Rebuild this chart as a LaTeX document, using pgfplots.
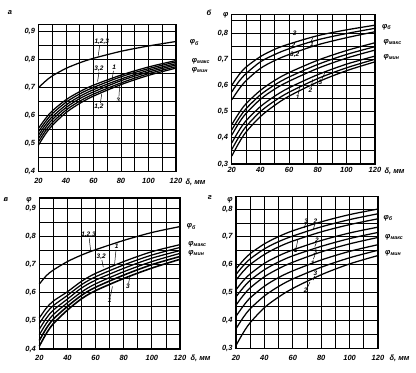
\documentclass[border=0pt]{standalone}
\usepackage{fontspec}
\setmainfont{Liberation Sans}
\usepackage{pgfplots}
\pgfplotsset{compat=1.18}
\newcommand{\lab}{\fontsize{7.5}{8.5}\selectfont\bfseries\itshape}
\newcommand{\slab}{\fontsize{6.5}{7.5}\selectfont\bfseries\itshape}
\pgfplotsset{
 panel/.style={
  scale only axis, anchor=south west, clip=false,
  xmin=20, xmax=120,
  xtick={20,40,60,80,100,120},
  minor xtick={30,50,70,90,110},
  grid=both,
  major grid style={black, line width=0.85pt},
  minor grid style={black, line width=0.85pt},
  axis line style={black, line width=1.3pt},
  major tick length=0pt, minor tick length=0pt,
  tick label style={font=\lab},
  xticklabels={20,40,60,80,100,120},
 },
 crv/.style={black, line width=1.25pt, smooth, no markers},
}
\tikzset{ldr/.style={black, line width=0.5pt}}
\begin{document}
\begin{tikzpicture}
\useasboundingbox (0,0) rectangle (416pt,373pt);
% ---------------- panel a ----------------
\begin{axis}[panel, at={(38.5pt,201.3pt)}, width=137.5pt, height=147pt,
  ymin=0.4, ymax=0.925,
  ytick={0.4,0.5,0.6,0.7,0.8,0.9}, minor ytick={0.45,0.55,0.65,0.75,0.85},
  yticklabels={{0,4},{0,5},{0,6},{0,7},{0,8},{0,9}},
  xticklabel style={yshift=-3pt}]
\addplot[crv] coordinates {(20,0.700)(25,0.723)(30,0.742)(40,0.769)(50,0.789)(60,0.805)(80,0.830)(100,0.849)(120,0.865)};
\addplot[crv] coordinates {(20,.555)(25,.589)(30,.617)(40,.657)(50,.686)(60,.709)(80,.745)(100,.774)(120,.797)};
\addplot[crv] coordinates {(20,.543)(25,.578)(30,.607)(40,.648)(50,.678)(60,.701)(80,.739)(100,.768)(120,.792)};
\addplot[crv] coordinates {(20,.531)(25,.567)(30,.596)(40,.638)(50,.669)(60,.693)(80,.731)(100,.762)(120,.786)};
\addplot[crv] coordinates {(20,.519)(25,.556)(30,.586)(40,.629)(50,.661)(60,.685)(80,.725)(100,.756)(120,.781)};
\addplot[crv] coordinates {(20,.507)(25,.545)(30,.575)(40,.620)(50,.652)(60,.677)(80,.717)(100,.750)(120,.775)};
\addplot[crv] coordinates {(20,.495)(25,.534)(30,.565)(40,.611)(50,.644)(60,.670)(80,.711)(100,.744)(120,.770)};
\node[font=\slab] at (axis cs:66,0.864) {1,2,3};
\draw[ldr] (axis cs:64.5,0.852) -- (axis cs:63.5,0.815);
\node[font=\slab] at (axis cs:64,0.769) {3,2};
\draw[ldr] (axis cs:64,0.757) -- (axis cs:63,0.722);
\node[font=\slab] at (axis cs:75,0.772) {1};
\draw[ldr] (axis cs:74.5,0.760) -- (axis cs:73.5,0.728);
\node[font=\slab] at (axis cs:64,0.632) {1,2};
\draw[ldr] (axis cs:65,0.645) -- (axis cs:66,0.678);
\node[font=\slab] at (axis cs:78,0.656) {3};
\draw[ldr] (axis cs:78.5,0.668) -- (axis cs:79,0.708);
\node[font=\lab, anchor=west] at (axis cs:127.5,0.862) {φ\textsubscript{б}};
\node[font=\lab, anchor=west] at (axis cs:129,0.795) {φ\textsubscript{макс}};
\node[font=\lab, anchor=west] at (axis cs:129,0.764) {φ\textsubscript{мин}};
\end{axis}
% ---------------- panel b ----------------
\begin{axis}[panel, at={(231.7pt,209pt)}, width=143.3pt, height=149.3pt,
  ymin=0.3, ymax=0.87,
  ytick={0.3,0.4,0.5,0.6,0.7,0.8}, minor ytick={0.35,0.45,0.55,0.65,0.75,0.85},
  yticklabels={{0,3},{0,4},{0,5},{0,6},{0,7},{0,8}}]
\addplot[crv] coordinates {(20,.60)(25,.64)(30,.67)(40,.71)(50,.738)(60,.758)(80,.79)(100,.812)(120,.83)};
\addplot[crv] coordinates {(20,.575)(25,.615)(30,.645)(40,.69)(50,.718)(60,.74)(80,.774)(100,.798)(120,.818)};
\addplot[crv] coordinates {(20,.545)(25,.585)(30,.618)(40,.665)(50,.695)(60,.718)(80,.755)(100,.782)(120,.805)};
\addplot[crv] coordinates {(20,.45)(25,.494)(30,.530)(40,.581)(50,.619)(60,.649)(80,.696)(100,.733)(120,.763)};
\addplot[crv] coordinates {(20,.43)(25,.474)(30,.511)(40,.564)(50,.602)(60,.632)(80,.680)(100,.718)(120,.748)};
\addplot[crv] coordinates {(20,.41)(25,.456)(30,.493)(40,.547)(50,.586)(60,.616)(80,.665)(100,.704)(120,.735)};
\addplot[crv] coordinates {(20,.38)(25,.427)(30,.465)(40,.519)(50,.559)(60,.591)(80,.641)(100,.681)(120,.712)};
\addplot[crv] coordinates {(20,.355)(25,.403)(30,.443)(40,.500)(50,.541)(60,.574)(80,.626)(100,.667)(120,.700)};
\addplot[crv] coordinates {(20,.33)(25,.380)(30,.422)(40,.481)(50,.524)(60,.559)(80,.613)(100,.656)(120,.690)};
\node[font=\slab] at (axis cs:64,0.80) {3};
\node[font=\slab] at (axis cs:63,0.755) {2};
\node[font=\slab] at (axis cs:76,0.757) {1};
\draw[ldr] (axis cs:75.5,0.768) -- (axis cs:76.5,0.782);
\node[font=\slab] at (axis cs:64,0.718) {3,2};
\node[font=\slab] at (axis cs:66,0.555) {1};
\draw[ldr] (axis cs:66.5,0.568) -- (axis cs:67.5,0.598);
\node[font=\slab] at (axis cs:75,0.58) {2};
\draw[ldr] (axis cs:75.5,0.593) -- (axis cs:76.5,0.623);
\node[font=\slab] at (axis cs:82,0.612) {3};
\draw[ldr] (axis cs:83,0.625) -- (axis cs:85,0.648);
\node[font=\lab, anchor=west] at (axis cs:122.5,0.824) {φ\textsubscript{б}};
\node[font=\lab, anchor=west] at (axis cs:123.5,0.763) {φ\textsubscript{макс}};
\node[font=\lab, anchor=west] at (axis cs:123.5,0.707) {φ\textsubscript{мин}};
\end{axis}
% ---------------- panel v ----------------
\begin{axis}[panel, at={(39.3pt,24pt)}, width=140.7pt, height=150.9pt,
  ymin=0.4, ymax=0.935,
  ytick={0.4,0.5,0.6,0.7,0.8,0.9}, minor ytick={0.45,0.55,0.65,0.75,0.85},
  yticklabels={{0,4},{0,5},{0,6},{0,7},{0,8},{0,9}},
  xticklabel style={yshift=-3pt}]
\addplot[crv] coordinates {(20,0.63)(25,0.66)(30,0.68)(40,0.71)(50,0.733)(60,0.752)(80,0.785)(100,0.813)(120,0.834)};
\addplot[crv] coordinates {(20,.51)(25,.545)(30,.57)(40,.603)(50,.64)(60,.668)(80,.71)(100,.745)(120,.77)};
\addplot[crv] coordinates {(20,.49)(25,.527)(30,.554)(40,.590)(50,.628)(60,.656)(80,.698)(100,.733)(120,.760)};
\addplot[crv] coordinates {(20,.47)(25,.509)(30,.538)(40,.577)(50,.616)(60,.644)(80,.686)(100,.722)(120,.749)};
\addplot[crv] coordinates {(20,.45)(25,.491)(30,.522)(40,.564)(50,.602)(60,.631)(80,.674)(100,.710)(120,.739)};
\addplot[crv, line width=1.6pt] coordinates {(20,.43)(25,.473)(30,.506)(40,.551)(50,.590)(60,.619)(80,.662)(100,.699)(120,.728)};
\addplot[crv, line width=1.6pt] coordinates {(20,.41)(25,.455)(30,.49)(40,.538)(50,.578)(60,.607)(80,.65)(100,.687)(120,.718)};
\node[font=\slab] at (axis cs:55,0.804) {1,2,3};
\draw[ldr] (axis cs:55.5,0.792) -- (axis cs:56.5,0.748);
\node[font=\slab] at (axis cs:64,0.727) {3,2};
\draw[ldr] (axis cs:64.5,0.715) -- (axis cs:65.5,0.690);
\node[font=\slab] at (axis cs:75,0.763) {1};
\draw[ldr] (axis cs:74.5,0.751) -- (axis cs:73.5,0.700);
\node[font=\slab] at (axis cs:83,0.621) {3};
\draw[ldr] (axis cs:83.5,0.633) -- (axis cs:84.5,0.662);
\node[font=\slab] at (axis cs:70,0.574) {1};
\draw[ldr] (axis cs:70.5,0.586) -- (axis cs:72,0.622);
\node[font=\lab, anchor=west] at (axis cs:122.3,0.834) {φ\textsubscript{б}};
\node[font=\lab, anchor=west] at (axis cs:123.5,0.770) {φ\textsubscript{макс}};
\node[font=\lab, anchor=west] at (axis cs:123.5,0.738) {φ\textsubscript{мин}};
\end{axis}
% ---------------- panel g ----------------
\begin{axis}[panel, at={(236pt,24.7pt)}, width=142pt, height=151.8pt,
  ymin=0.3, ymax=0.845,
  ytick={0.3,0.4,0.5,0.6,0.7,0.8}, minor ytick={0.35,0.45,0.55,0.65,0.75},
  yticklabels={{0,3},{0,4},{0,5},{0,6},{0,7},{0,8}},
  xticklabel style={yshift=-3pt}]
\addplot[crv] coordinates {(20,.585)(25,.615)(30,.640)(40,.675)(50,.701)(60,.722)(80,.754)(100,.780)(120,.800)};
\addplot[crv] coordinates {(20,.565)(25,.596)(30,.621)(40,.657)(50,.683)(60,.703)(80,.736)(100,.762)(120,.783)};
\addplot[crv] coordinates {(20,.545)(25,.576)(30,.601)(40,.637)(50,.664)(60,.685)(80,.718)(100,.744)(120,.765)};
\addplot[crv] coordinates {(20,.510)(25,.542)(30,.567)(40,.605)(50,.632)(60,.653)(80,.687)(100,.714)(120,.735)};
\addplot[crv] coordinates {(20,.485)(25,.517)(30,.544)(40,.582)(50,.610)(60,.632)(80,.666)(100,.694)(120,.716)};
\addplot[crv] coordinates {(20,.455)(25,.489)(30,.517)(40,.557)(50,.586)(60,.609)(80,.646)(100,.675)(120,.698)};
\addplot[crv] coordinates {(20,.415)(25,.451)(30,.481)(40,.523)(50,.554)(60,.578)(80,.617)(100,.648)(120,.672)};
\addplot[crv] coordinates {(20,.370)(25,.410)(30,.442)(40,.488)(50,.522)(60,.549)(80,.591)(100,.625)(120,.652)};
\addplot[crv] coordinates {(20,.310)(25,.355)(30,.392)(40,.446)(50,.484)(60,.515)(80,.564)(100,.603)(120,.633)};
\node[font=\slab] at (axis cs:69.5,0.757) {3};
\draw[ldr] (axis cs:69,0.747) -- (axis cs:68,0.732);
\node[font=\slab] at (axis cs:76,0.757) {2};
\draw[ldr] (axis cs:75.5,0.747) -- (axis cs:74.5,0.727);
\node[font=\slab] at (axis cs:62,0.652) {1};
\draw[ldr] (axis cs:62.5,0.662) -- (axis cs:63.5,0.690);
\node[font=\slab] at (axis cs:77,0.688) {2};
\draw[ldr] (axis cs:76.5,0.678) -- (axis cs:75.5,0.665);
\node[font=\slab] at (axis cs:76,0.644) {3};
\draw[ldr] (axis cs:75.5,0.634) -- (axis cs:74.5,0.620);
\node[font=\slab] at (axis cs:74,0.604) {1};
\node[font=\slab] at (axis cs:76,0.570) {3};
\draw[ldr] (axis cs:75.5,0.560) -- (axis cs:74.5,0.545);
\node[font=\slab] at (axis cs:69,0.508) {2};
\draw[ldr] (axis cs:70,0.515) -- (axis cs:72,0.537);
\node[font=\lab, anchor=west] at (axis cs:121.4,0.767) {φ\textsubscript{б}};
\node[font=\lab, anchor=west] at (axis cs:122.6,0.697) {φ\textsubscript{макс}};
\node[font=\lab, anchor=west] at (axis cs:122.6,0.641) {φ\textsubscript{мин}};
\end{axis}
% ---------------- free labels ----------------
\node[font=\lab] at (10pt,360pt) {а};
\node[font=\lab] at (209pt,360pt) {б};
\node[font=\lab] at (6pt,173pt) {в};
\node[font=\lab] at (210pt,175pt) {г};
\node[font=\lab] at (225.7pt,358pt) {φ};
\node[font=\lab] at (29pt,173pt) {φ};
\node[font=\lab] at (230pt,173pt) {φ};
\node[font=\lab, anchor=west] at (182pt,190.3pt) {δ, мм};
\node[font=\lab, anchor=west] at (381pt,202pt) {δ, мм};
\node[font=\lab, anchor=west] at (187pt,15pt) {δ, мм};
\node[font=\lab, anchor=west] at (386pt,15pt) {δ, мм};
\end{tikzpicture}
\end{document}
